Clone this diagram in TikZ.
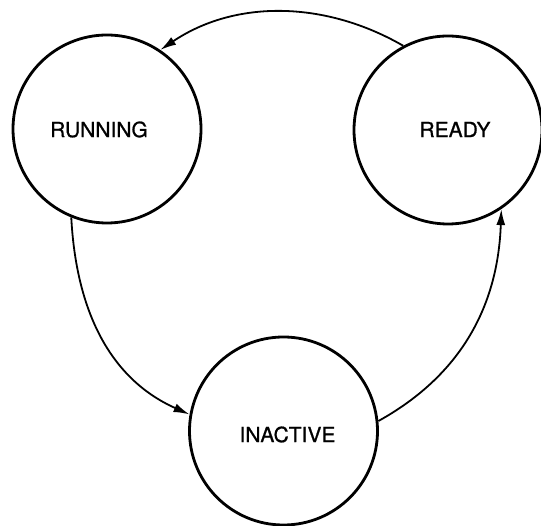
\documentclass[tikz,border=0pt]{standalone}
\usepackage{fontspec}
\setmainfont{TeX Gyre Heros}
\newfontfamily\statefont{TeX Gyre Heros}[FakeBold=0.8]
\usetikzlibrary{arrows.meta}
\begin{document}
\begin{tikzpicture}[x=1pt,y=1pt,
  state/.style={circle,draw,line width=2.8pt,inner sep=0pt,minimum size=188pt},
  statelabel/.style={inner sep=0pt,font=\statefont\fontsize{21}{21}\selectfont},
  trans/.style={line width=1.8pt,-{Latex[length=16pt,width=9pt]}}]
  \useasboundingbox (0,0) rectangle (541,525);
  % the three process states
  \node[state] (running)  at (107,396) {};
  \node[state] (ready)    at (448,395) {};
  \node[state] (inactive) at (283.5,94) {};
  \node[statelabel] (runningtext)  at (99,395.5)  {RUNNING};
  \node[statelabel] (readytext)    at (455,395.5) {READY};
  \node[statelabel] (inactivetext) at (287.5,90.5) {INACTIVE};
  % transitions between states
  \draw[trans] (ready.118) to[out=150,in=34,looseness=0.95] (running.56);
  \draw[trans] (running.248) to[out=-87,in=156,looseness=1.0] (inactive.170);
  \draw[trans] (inactive.6) to[out=29,in=-92,looseness=1.0] (ready.-56);
\end{tikzpicture}
\end{document}
